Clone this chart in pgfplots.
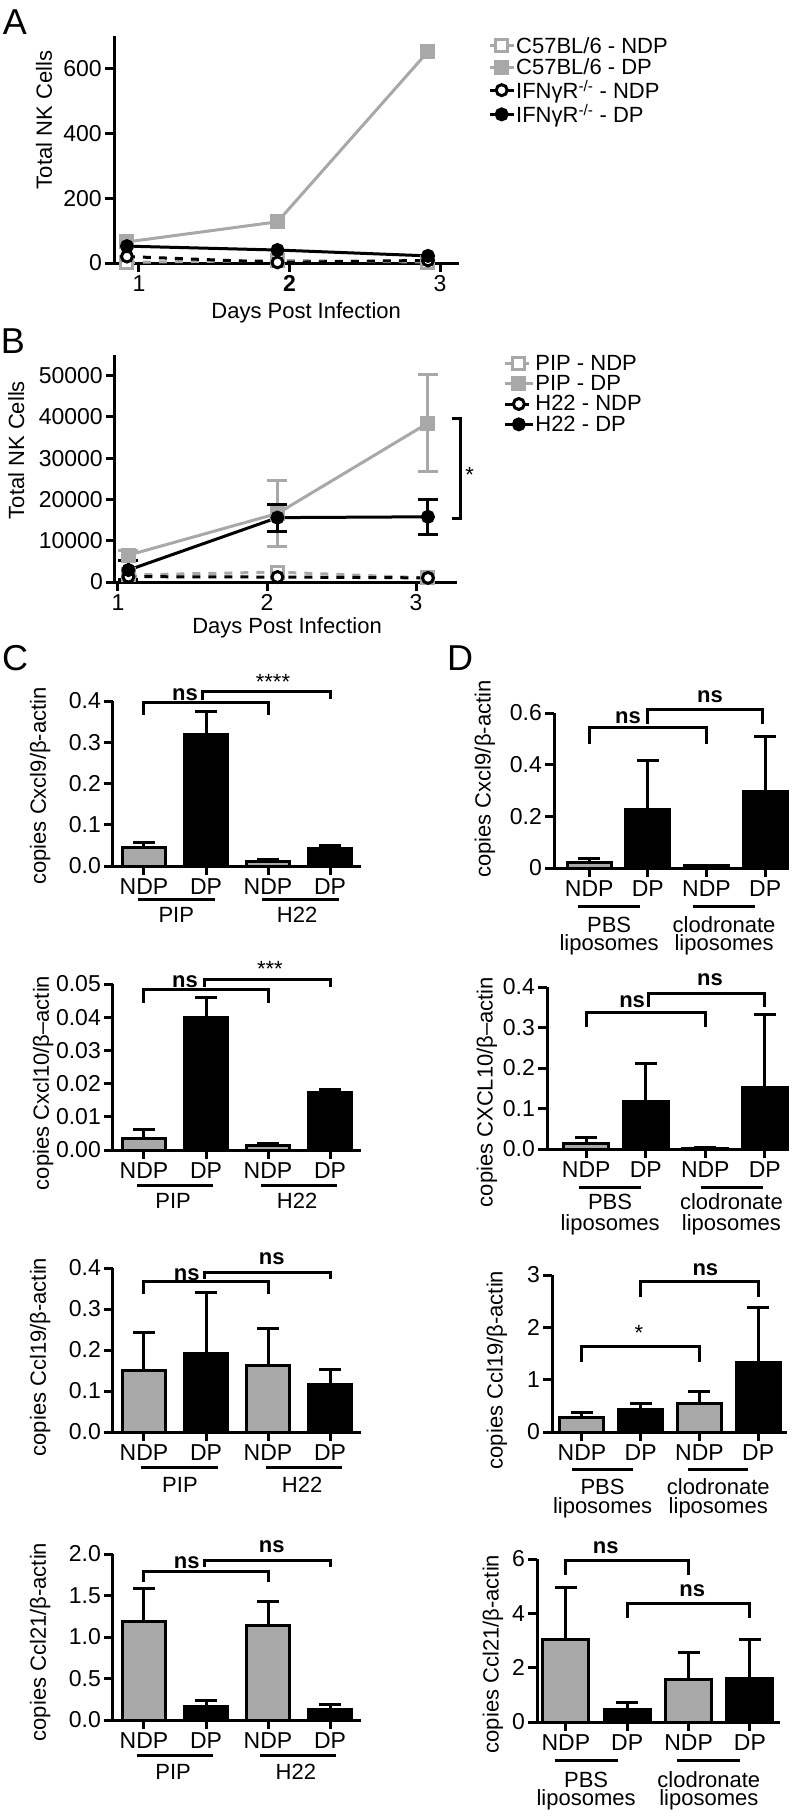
\documentclass[border=0pt]{standalone}
\usepackage{fontspec}
\setmainfont{Liberation Sans}
\usepackage{pgfplots}
\pgfplotsset{compat=1.18}
\definecolor{gr}{RGB}{168,168,168}
\newcommand{\fs}{\fontsize{22}{26}\selectfont}
\newcommand{\ft}{\fontsize{23}{27}\selectfont}
\newcommand{\fl}{\fontsize{36}{40}\selectfont}
\tikzset{gl/.style={line width=3pt}}
\pgfplotsset{
 gp/.style={scale only axis, clip=false, anchor=south west,
   axis x line*=bottom, axis y line*=left,
   axis line style={line width=3pt,-},
   tick style={line width=3pt, black},
   major tick length=9pt, tick align=outside,
   scaled y ticks=false, scaled x ticks=false,
   tick label style={font=\ft, inner sep=3pt}},
 yl/.style 2 args={every axis y label/.style={at={(axis description cs:#1,#2)},rotate=90,anchor=center,font=\fs}},
 xl/.style 2 args={every axis x label/.style={at={(axis description cs:#1,#2)},anchor=center,font=\fs}},
 barax/.style={gp, ymin=0, xtick={0,1,2,3}, xticklabels={NDP,DP,NDP,DP}},
 ndp/.style={ybar, bar shift=0pt, fill=gr, draw=black, line width=3pt,
   error bars/.cd, y dir=plus, y explicit,
   error bar style={line width=3pt, black},
   error mark options={rotate=90, line width=3pt, mark size=11pt, black}},
 dp/.style={ybar, bar shift=0pt, fill=black, draw=black, line width=3pt,
   error bars/.cd, y dir=plus, y explicit,
   error bar style={line width=3pt, black},
   error mark options={rotate=90, line width=3pt, mark size=11pt, black}},
 br/.style={black, line width=3pt, no marks, forget plot},
}
\begin{document}
\begin{tikzpicture}
\useasboundingbox (0,0) rectangle (796pt,-1816pt);
% panel labels
\node[font=\fl] at (15pt,-22pt) {A};
\node[font=\fl] at (13pt,-341pt) {B};
\node[font=\fl] at (15pt,-658pt) {C};
\node[font=\fl] at (460pt,-658pt) {D};

% ---------- A ----------
\begin{axis}[gp, at={(114pt,-263pt)}, width=345pt, height=227pt,
  xmin=0.834, xmax=3.126, ymin=0, ymax=700,
  xtick={1,2,3}, xticklabels={1,\textbf{2},3},
  ytick={0,200,400,600}, yticklabels={0,200,400,600},
  ylabel={Total NK Cells}, xlabel={Days Post Infection},
  yl={-0.203}{0.63}, xl={0.557}{-0.22},
  legend style={at={(1.084,1.0)}, anchor=north west, draw=none, fill=none,
    font=\fs, inner sep=0pt, row sep=2pt, nodes={inner sep=1pt},
    /tikz/every even column/.append style={column sep=6pt}},
  legend cell align=left,
  legend image code/.code={\draw[mark repeat=2,mark phase=2,#1] plot coordinates {(0pt,0pt) (12pt,0pt) (24pt,0pt)};}]
\addplot[gr, line width=3pt, dash pattern=on 8pt off 8pt, mark=square*, mark size=6pt, mark options={solid, fill=white, draw=gr}]
  coordinates {(0.92,2) (1.92,8) (2.92,3)};
\addlegendentry{C57BL/6 - NDP}
\addplot[gr, line width=3pt, mark=square*, mark size=6pt, mark options={solid, fill=gr, draw=gr}]
  coordinates {(0.92,65) (1.92,127) (2.92,652)};
\addlegendentry{C57BL/6 - DP}
\addplot[black, line width=3pt, dash pattern=on 8pt off 8pt, mark=*, mark size=5.5pt, mark options={solid, fill=white, draw=black}]
  coordinates {(0.92,20) (1.92,2) (2.92,8)};
\addlegendentry{IFNγR\textsuperscript{-/-} - NDP}
\addplot[black, line width=3pt, mark=*, mark size=5.5pt, mark options={solid, fill=black}]
  coordinates {(0.92,52) (1.92,40) (2.92,22)};
\addlegendentry{IFNγR\textsuperscript{-/-} - DP}
\end{axis}

% ---------- B ----------
\begin{axis}[gp, at={(115pt,-582pt)}, width=342pt, height=227pt,
  xmin=0.98, xmax=3.275, ymin=0, ymax=55000,
  xtick={1,2,3}, xticklabels={1,2,3},
  ytick={0,10000,20000,30000,40000,50000}, yticklabels={0,10000,20000,30000,40000,50000},
  ylabel={Total NK Cells}, xlabel={Days Post Infection},
  yl={-0.289}{0.581}, xl={0.503}{-0.203},
  legend style={at={(1.135,1.004)}, anchor=north west, draw=none, fill=none,
    font=\fs, inner sep=0pt, row sep=1.5pt, nodes={inner sep=1pt},
    /tikz/every even column/.append style={column sep=4pt}},
  legend cell align=left,
  legend image code/.code={\draw[mark repeat=2,mark phase=2,#1] plot coordinates {(0pt,0pt) (14pt,0pt) (28pt,0pt)};}]
\addplot[gr, line width=3pt, dash pattern=on 8pt off 8pt, mark=square*, mark size=6pt, mark options={solid, fill=white, draw=gr}]
  coordinates {(1.07,1700) (2.07,2400) (3.08,1000)};
\addlegendentry{PIP - NDP}
\addplot[gr, line width=3pt, mark=square*, mark size=6pt, mark options={solid, fill=gr, draw=gr},
  error bars/.cd, y dir=both, y explicit, error bar style={line width=3pt, gr, solid},
  error mark options={rotate=90, line width=3pt, mark size=10pt, gr}]
  coordinates {(1.07,6500) +- (0,1200) (2.07,16600) +- (0,8000) (3.08,38500) +- (0,11800)};
\addlegendentry{PIP - DP}
\addplot[black, line width=3pt, dash pattern=on 8pt off 8pt, mark=*, mark size=5.5pt, mark options={solid, fill=white, draw=black}]
  coordinates {(1.07,1300) (2.07,1200) (3.08,1000)};
\addlegendentry{H22 - NDP}
\addplot[black, line width=3pt, mark=*, mark size=5.5pt, mark options={solid, fill=black},
  error bars/.cd, y dir=both, y explicit, error bar style={line width=3pt, black, solid},
  error mark options={rotate=90, line width=3pt, mark size=10pt, black}]
  coordinates {(1.07,2900) +- (0,2400) (2.07,15600) +- (0,3300) (3.08,15800) +- (0,4200)};
\addlegendentry{H22 - DP}
\addplot[br] coordinates {(3.24,39500) (3.3,39500) (3.3,15500) (3.24,15500)};
\node[font=\fs] at (axis cs:3.36,27000) [yshift=-4.7pt] {*};
\end{axis}

% ---------- C1 ----------
\begin{axis}[barax, at={(113pt,-866pt)}, width=248pt, height=165pt,
  xmin=-0.5, xmax=3.5, ymax=0.4, bar width=0.7,
  ytick={0,0.1,0.2,0.3,0.4}, yticklabels={0.0,0.1,0.2,0.3,0.4},
  ylabel={copies Cxcl9/β-actin}, yl={-0.294}{0.485}]
\addplot[ndp] coordinates {(0,0.045) +- (0,0.013) (2,0.012) +- (0,0.004)};
\addplot[dp] coordinates {(1,0.32) +- (0,0.055) (3,0.043) +- (0,0.007)};
\addplot[br] coordinates {(0,0.366) (0,0.3976) (2,0.3976) (2,0.366)};
\addplot[br] coordinates {(0.95,0.402) (0.95,0.424) (3,0.424) (3,0.405)};
\node[font=\fs\bfseries] at (axis cs:0.66,0.4145) {ns};
\node[font=\fs] at (axis cs:2.08,0.458) [yshift=-4.7pt] {****};
\draw[gl] ([yshift=-33pt]axis cs:-0.1,0) -- ([yshift=-33pt]axis cs:1.15,0);
\draw[gl] ([yshift=-33pt]axis cs:1.9,0) -- ([yshift=-33pt]axis cs:3.15,0);
\node[font=\fs] at ([yshift=-49pt]axis cs:0.52,0) {PIP};
\node[font=\fs] at ([yshift=-49pt]axis cs:2.47,0) {H22};
\end{axis}

% ---------- C2 ----------
\begin{axis}[barax, at={(113pt,-1150pt)}, width=248pt, height=166pt,
  xmin=-0.5, xmax=3.5, ymax=0.05, bar width=0.7,
  ytick={0,0.01,0.02,0.03,0.04,0.05}, yticklabels={0.00,0.01,0.02,0.03,0.04,0.05},
  ylabel={copies Cxcl10/β--actin}, yl={-0.282}{0.404}]
\addplot[ndp] coordinates {(0,0.0035) +- (0,0.0028) (2,0.0013) +- (0,0.0007)};
\addplot[dp] coordinates {(1,0.040) +- (0,0.006) (3,0.0172) +- (0,0.0011)};
\addplot[br] coordinates {(0,0.0443) (0,0.0482) (2,0.0482) (2,0.0443)};
\addplot[br] coordinates {(0.98,0.0491) (0.98,0.0515) (3,0.0515) (3,0.0491)};
\node[font=\fs\bfseries] at (axis cs:0.66,0.0506) {ns};
\node[font=\fs] at (axis cs:2.03,0.056) [yshift=-4.7pt] {***};
\draw[gl] ([yshift=-35pt]axis cs:-0.11,0) -- ([yshift=-35pt]axis cs:1.11,0);
\draw[gl] ([yshift=-35pt]axis cs:1.89,0) -- ([yshift=-35pt]axis cs:3.11,0);
\node[font=\fs] at ([yshift=-51pt]axis cs:0.47,0) {PIP};
\node[font=\fs] at ([yshift=-51pt]axis cs:2.47,0) {H22};
\end{axis}

% ---------- C3 ----------
\begin{axis}[barax, at={(113pt,-1432pt)}, width=248pt, height=164pt,
  xmin=-0.5, xmax=3.5, ymax=0.4, bar width=0.7,
  ytick={0,0.1,0.2,0.3,0.4}, yticklabels={0.0,0.1,0.2,0.3,0.4},
  ylabel={copies Ccl19/β-actin}, yl={-0.294}{0.457}]
\addplot[ndp] coordinates {(0,0.15) +- (0,0.093) (2,0.163) +- (0,0.089)};
\addplot[dp] coordinates {(1,0.192) +- (0,0.148) (3,0.115) +- (0,0.037)};
\addplot[br] coordinates {(0,0.337) (0,0.366) (2,0.366) (2,0.337)};
\addplot[br] coordinates {(0.98,0.373) (0.98,0.39) (3,0.39) (3,0.373)};
\node[font=\fs\bfseries] at (axis cs:0.69,0.383) {ns};
\node[font=\fs\bfseries] at (axis cs:2.06,0.424) {ns};
\draw[gl] ([yshift=-35pt]axis cs:-0.05,0) -- ([yshift=-35pt]axis cs:1.2,0);
\draw[gl] ([yshift=-35pt]axis cs:1.97,0) -- ([yshift=-35pt]axis cs:3.2,0);
\node[font=\fs] at ([yshift=-53pt]axis cs:0.58,0) {PIP};
\node[font=\fs] at ([yshift=-53pt]axis cs:2.55,0) {H22};
\end{axis}

% ---------- C4 ----------
\begin{axis}[barax, at={(113pt,-1720pt)}, width=248pt, height=166pt,
  xmin=-0.5, xmax=3.5, ymax=2, bar width=0.7,
  ytick={0,0.5,1,1.5,2}, yticklabels={0.0,0.5,1.0,1.5,2.0},
  ylabel={copies Ccl21/β-actin}, yl={-0.294}{0.47}]
\addplot[ndp] coordinates {(0,1.19) +- (0,0.40) (2,1.14) +- (0,0.29)};
\addplot[dp] coordinates {(1,0.16) +- (0,0.07) (3,0.13) +- (0,0.06)};
\addplot[br] coordinates {(0,1.663) (0,1.795) (2,1.795) (2,1.663)};
\addplot[br] coordinates {(0.98,1.843) (0.98,1.928) (3,1.928) (3,1.843)};
\node[font=\fs\bfseries] at (axis cs:0.69,1.89) {ns};
\node[font=\fs\bfseries] at (axis cs:2.06,2.084) {ns};
\draw[gl] ([yshift=-35pt]axis cs:-0.11,0) -- ([yshift=-35pt]axis cs:1.11,0);
\draw[gl] ([yshift=-35pt]axis cs:1.87,0) -- ([yshift=-35pt]axis cs:3.1,0);
\node[font=\fs] at ([yshift=-52pt]axis cs:0.47,0) {PIP};
\node[font=\fs] at ([yshift=-52pt]axis cs:2.45,0) {H22};
\end{axis}

% ---------- D1 ----------
\begin{axis}[barax, at={(554pt,-868pt)}, width=234pt, height=155pt,
  xmin=-0.6, xmax=3.39, ymax=0.6, bar width=0.75,
  ytick={0,0.2,0.4,0.6}, yticklabels={0,0.2,0.4,0.6},
  ylabel={copies Cxcl9/β-actin}, yl={-0.295}{0.574}]
\addplot[ndp] coordinates {(0,0.02) +- (0,0.015) (2,0.008) +- (0,0.003)};
\addplot[dp] coordinates {(1,0.225) +- (0,0.19) (3,0.295) +- (0,0.215)};
\addplot[br] coordinates {(0,0.48) (0,0.542) (2,0.542) (2,0.48)};
\addplot[br] coordinates {(1,0.557) (1,0.615) (2.96,0.615) (2.96,0.557)};
\node[font=\fs\bfseries] at (axis cs:0.66,0.58) {ns};
\node[font=\fs\bfseries] at (axis cs:2.06,0.662) {ns};
\draw[gl] ([yshift=-38pt]axis cs:-0.19,0) -- ([yshift=-38pt]axis cs:0.87,0);
\draw[gl] ([yshift=-38pt]axis cs:1.77,0) -- ([yshift=-38pt]axis cs:2.83,0);
\node[font=\fs] at ([yshift=-57pt]axis cs:0.34,0) {PBS};
\node[font=\fs] at ([yshift=-77pt]axis cs:0.34,0) {liposomes};
\node[font=\fs] at ([yshift=-57pt]axis cs:2.3,0) {clodronate};
\node[font=\fs] at ([yshift=-77pt]axis cs:2.3,0) {liposomes};
\end{axis}

% ---------- D2 ----------
\begin{axis}[barax, at={(547pt,-1149pt)}, width=241pt, height=162pt,
  xmin=-0.66, xmax=3.39, ymax=0.4, bar width=0.75,
  ytick={0,0.1,0.2,0.3,0.4}, yticklabels={0.0,0.1,0.2,0.3,0.4},
  ylabel={copies CXCL10/β--actin}, yl={-0.249}{0.352}]
\addplot[ndp] coordinates {(0,0.013) +- (0,0.015) (2,0.002) +- (0,0.001)};
\addplot[dp] coordinates {(1,0.117) +- (0,0.093) (3,0.153) +- (0,0.18)};
\addplot[br] coordinates {(0,0.301) (0,0.336) (2,0.336) (2,0.301)};
\addplot[br] coordinates {(1.05,0.35) (1.05,0.385) (3,0.385) (3,0.35)};
\node[font=\fs\bfseries] at (axis cs:0.77,0.365) {ns};
\node[font=\fs\bfseries] at (axis cs:2.08,0.417) {ns};
\draw[gl] ([yshift=-38pt]axis cs:-0.12,0) -- ([yshift=-38pt]axis cs:0.92,0);
\draw[gl] ([yshift=-38pt]axis cs:1.92,0) -- ([yshift=-38pt]axis cs:2.97,0);
\node[font=\fs] at ([yshift=-53pt]axis cs:0.4,0) {PBS};
\node[font=\fs] at ([yshift=-76pt]axis cs:0.4,0) {liposomes};
\node[font=\fs] at ([yshift=-53pt]axis cs:2.44,0) {clodronate};
\node[font=\fs] at ([yshift=-76pt]axis cs:2.44,0) {liposomes};
\end{axis}

% ---------- D3 ----------
\begin{axis}[barax, at={(552pt,-1432pt)}, width=235pt, height=157pt,
  xmin=-0.51, xmax=3.49, ymax=3, bar width=0.75,
  ytick={0,1,2,3}, yticklabels={0,1,2,3},
  ylabel={copies Ccl19/β-actin}, yl={-0.234}{0.395}]
\addplot[ndp] coordinates {(0,0.28) +- (0,0.09) (2,0.55) +- (0,0.22)};
\addplot[dp] coordinates {(1,0.43) +- (0,0.12) (3,1.32) +- (0,1.06)};
\addplot[br] coordinates {(0,1.34) (0,1.64) (2,1.64) (2,1.34)};
\addplot[br] coordinates {(1,2.58) (1,2.87) (3,2.87) (3,2.58)};
\node[font=\fs] at (axis cs:0.97,1.99) [yshift=-4.7pt] {*};
\node[font=\fs\bfseries] at (axis cs:2.1,3.11) {ns};
\draw[gl] ([yshift=-37pt]axis cs:-0.17,0) -- ([yshift=-37pt]axis cs:0.87,0);
\draw[gl] ([yshift=-37pt]axis cs:1.81,0) -- ([yshift=-37pt]axis cs:2.83,0);
\node[font=\fs] at ([yshift=-55pt]axis cs:0.35,0) {PBS};
\node[font=\fs] at ([yshift=-76pt]axis cs:0.35,0) {liposomes};
\node[font=\fs] at ([yshift=-55pt]axis cs:2.32,0) {clodronate};
\node[font=\fs] at ([yshift=-76pt]axis cs:2.32,0) {liposomes};
\end{axis}

% ---------- D4 ----------
\begin{axis}[barax, at={(537pt,-1722pt)}, width=243pt, height=163pt,
  xmin=-0.47, xmax=3.49, ymax=6, bar width=0.75,
  ytick={0,2,4,6}, yticklabels={0,2,4,6},
  ylabel={copies Ccl21/β-actin}, yl={-0.181}{0.417}]
\addplot[ndp] coordinates {(0,3.02) +- (0,1.93) (2,1.55) +- (0,1.0)};
\addplot[dp] coordinates {(1,0.45) +- (0,0.27) (3,1.62) +- (0,1.43)};
\addplot[br] coordinates {(0,5.41) (0,5.96) (2,5.96) (2,5.41)};
\addplot[br] coordinates {(1,3.83) (1,4.38) (3,4.38) (3,3.83)};
\node[font=\fs\bfseries] at (axis cs:0.65,6.4) {ns};
\node[font=\fs\bfseries] at (axis cs:2.06,4.82) {ns};
\draw[gl] ([yshift=-38pt]axis cs:-0.18,0) -- ([yshift=-38pt]axis cs:0.85,0);
\draw[gl] ([yshift=-38pt]axis cs:1.81,0) -- ([yshift=-38pt]axis cs:2.84,0);
\node[font=\fs] at ([yshift=-58pt]axis cs:0.33,0) {PBS};
\node[font=\fs] at ([yshift=-78pt]axis cs:0.33,0) {liposomes};
\node[font=\fs] at ([yshift=-58pt]axis cs:2.33,0) {clodronate};
\node[font=\fs] at ([yshift=-78pt]axis cs:2.33,0) {liposomes};
\end{axis}
\end{tikzpicture}
\end{document}
